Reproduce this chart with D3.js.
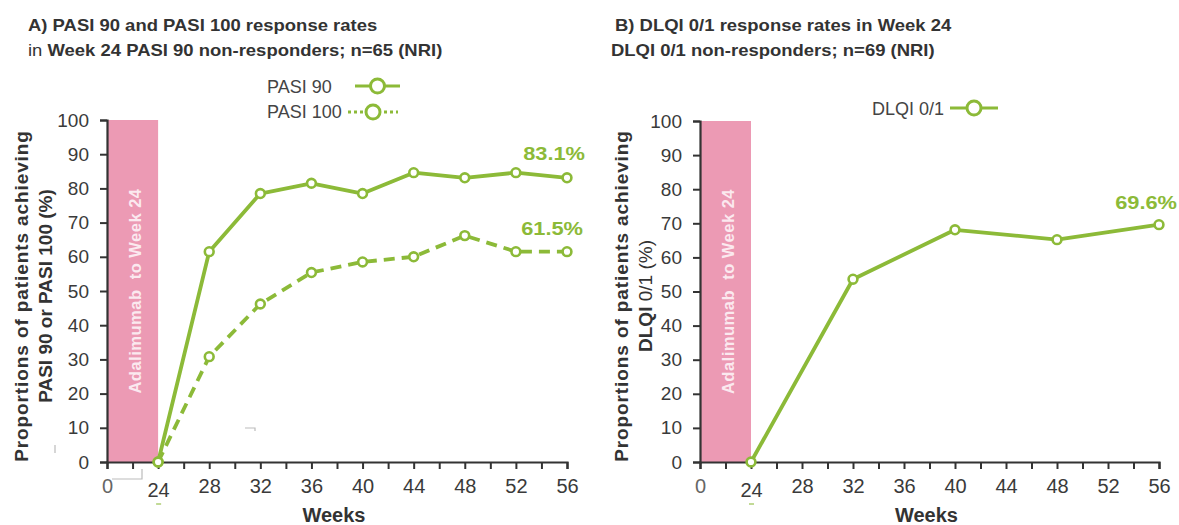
<!DOCTYPE html>
<html>
<head>
<meta charset="utf-8">
<script src="https://cdn.jsdelivr.net/npm/d3@7"></script>
<style>
  html, body { margin: 0; padding: 0; background: #fff; }
  svg { display: block; font-family: "Liberation Sans", Arial, sans-serif; }
</style>
</head>
<body>
<svg id="chart" width="1179" height="525"></svg>
<script>
// Week 24 non-responders followed to week 56
const weeksA = [24, 28, 32, 36, 40, 44, 48, 52, 56];
const pasi90 = [0, 61.5, 78.5, 81.5, 78.5, 84.6, 83.1, 84.6, 83.1];
const pasi100 = [0, 30.8, 46.2, 55.4, 58.5, 60.0, 66.2, 61.5, 61.5];

const weeksB = [24, 32, 40, 48, 56];
const dlqi = [0, 53.6, 68.1, 65.2, 69.6];

const yTicks = [0, 10, 20, 30, 40, 50, 60, 70, 80, 90, 100];
// x axis is broken between 0 and 24; one unlabeled tick sits inside the break
const xTicks = [0, 12, 24, 26, 28, 30, 32, 34, 36, 38, 40, 42, 44, 46, 48, 50, 52, 54, 56];
const xTickLabels = [0, 24, 28, 32, 36, 40, 44, 48, 52, 56];

const GREEN = "#8cba38";
const PINK = "#ec9ab4";
const INK = "#333333";

const svg = d3.select("#chart");

function panel(opts) {
  const { left, right, top, bottom } = opts;
  const g = svg.append("g");
  // piecewise scale: the 0–24 break occupies two tick steps
  const step = (right - left) / 18;
  const x = d3.scaleLinear().domain([0, 24, 56]).range([left, left + 2 * step, right]);
  const y = d3.scaleLinear().domain([0, 100]).range([bottom, top]);

  // treatment period band
  g.append("rect")
    .attr("x", x(0) + 1).attr("y", y(100))
    .attr("width", x(24) - x(0) - 1).attr("height", y(0) - y(100))
    .attr("fill", PINK);
  g.append("text")
    .attr("transform", `translate(${(x(0) + x(24)) / 2 + 8},${(y(0) + y(100)) / 2}) rotate(-90)`)
    .attr("text-anchor", "middle")
    .attr("font-size", 16.5).attr("font-weight", "bold")
    .attr("letter-spacing", 0.5)
    .attr("fill", "#fbe9ef")
    .attr("xml:space", "preserve")
    .text("Adalimumab  to Week 24");

  // y axis
  const yAxis = g.append("g")
    .attr("transform", `translate(${left},0)`)
    .call(d3.axisLeft(y).tickValues(yTicks).tickSize(7).tickPadding(11));
  yAxis.select(".domain").attr("stroke", INK).attr("stroke-width", 2.2);
  yAxis.selectAll(".tick line").attr("stroke", INK).attr("stroke-width", 2);
  yAxis.selectAll(".tick text").attr("font-size", 19).attr("fill", "#3a3a3a")
    .attr("font-family", "Liberation Sans, Arial, sans-serif");

  // x axis
  const xAxis = g.append("g")
    .attr("transform", `translate(0,${bottom})`)
    .call(d3.axisBottom(x).tickValues(xTicks).tickSize(7).tickPadding(10)
      .tickFormat(d => xTickLabels.includes(d) ? d : ""));
  xAxis.select(".domain").attr("stroke", INK).attr("stroke-width", 2.2);
  xAxis.selectAll(".tick line").attr("stroke", INK).attr("stroke-width", 2);
  xAxis.selectAll(".tick text").attr("font-size", 20)
    .attr("font-family", "Liberation Sans, Arial, sans-serif")
    .attr("dy", d => d === 24 ? "0.9em" : "0.71em")
    .attr("fill", d => d === 0 ? "#666" : "#3a3a3a");

  g.append("text")
    .attr("x", (left + right) / 2 - 3).attr("y", 522)
    .attr("text-anchor", "middle")
    .attr("font-size", 20).attr("font-weight", "bold").attr("fill", INK)
    .text("Weeks");

  // small green mark beneath the week 24 label
  g.append("line")
    .attr("x1", x(24) - 2).attr("x2", x(24) + 3)
    .attr("y1", 504).attr("y2", 504)
    .attr("stroke", GREEN).attr("stroke-width", 1.5).attr("opacity", 0.7);

  return { g, x, y };
}

function series(p, weeks, values, dash) {
  const pts = weeks.map((w, i) => [w, values[i]]);
  p.g.append("path")
    .datum(pts)
    .attr("fill", "none")
    .attr("stroke", GREEN)
    .attr("stroke-width", 3.8)
    .attr("stroke-linejoin", "round")
    .attr("stroke-dasharray", dash || null)
    .attr("d", d3.line().x(d => p.x(d[0])).y(d => p.y(d[1])));
  p.g.selectAll(null)
    .data(pts).enter().append("circle")
    .attr("cx", d => p.x(d[0])).attr("cy", d => p.y(d[1]))
    .attr("r", 4.4)
    .attr("fill", "#fff")
    .attr("stroke", GREEN).attr("stroke-width", 2.6);
}

function endLabel(p, weeks, values, dx, dy) {
  const w = weeks[weeks.length - 1], v = values[values.length - 1];
  p.g.append("text")
    .attr("transform", `translate(${p.x(w) + dx},${p.y(v) + dy}) scale(1.18,1)`)
    .attr("text-anchor", "end")
    .attr("font-size", 18.5).attr("font-weight", "bold").attr("fill", GREEN)
    .text(d3.format(".1f")(v) + "%");
}

function legendItem(textX, textY, label, symX, symW, symY, dash) {
  svg.append("text")
    .attr("x", textX).attr("y", textY)
    .attr("font-size", 18).attr("fill", "#444")
    .text(label);
  svg.append("line")
    .attr("x1", symX).attr("x2", symX + symW)
    .attr("y1", symY).attr("y2", symY)
    .attr("stroke", GREEN).attr("stroke-width", 3)
    .attr("stroke-dasharray", dash || null);
  svg.append("circle")
    .attr("cx", symX + symW / 2).attr("cy", symY).attr("r", 7)
    .attr("fill", "#fff").attr("stroke", GREEN).attr("stroke-width", 3);
}

function title(x, y, parts) {
  const t = svg.append("text")
    .attr("transform", `translate(${x},${y}) scale(1.12,1)`)
    .attr("font-size", 16.5).attr("fill", INK).attr("xml:space", "preserve");
  parts.forEach(([s, bold]) => t.append("tspan").attr("font-weight", bold ? "bold" : "normal").text(s));
}

function yTitle(cx, cy, lines) {
  lines.forEach(({ parts, spacing }, i) => {
    const t = svg.append("text")
      .attr("transform", `translate(${cx + i * 24},${cy}) rotate(-90)`)
      .attr("text-anchor", "middle")
      .attr("font-size", 19).attr("fill", INK)
      .attr("letter-spacing", spacing);
    parts.forEach(([s, bold]) => t.append("tspan").attr("font-weight", bold ? "bold" : "normal").text(s));
  });
}

// ---- Panel A: PASI 90 / PASI 100 ----
title(28, 31, [["A) PASI 90 and PASI 100 response rates", true]]);
title(28, 56, [["in ", false], ["Week 24 PASI 90 non-responders; n=65 (NRI)", true]]);

const pA = panel({ left: 107, right: 567, top: 120, bottom: 462 });
series(pA, weeksA, pasi100, "11,7");
series(pA, weeksA, pasi90, null);
endLabel(pA, weeksA, pasi90, 18, -18);
endLabel(pA, weeksA, pasi100, 16, -17);

legendItem(267, 93, "PASI 90", 355, 45, 86, null);
legendItem(267, 118, "PASI 100", 348, 50, 112, "3,3");

yTitle(28, 296, [
  { parts: [["Proportions of patients achieving", true]], spacing: 0.9 },
  { parts: [["PASI 90 or PASI 100 (%)", true]], spacing: 0 }
]);

// faint marks near panel A axes
svg.append("path").attr("d", "M112,479 H142 V469").attr("fill", "none")
  .attr("stroke", "#bbb").attr("stroke-width", 1.2);
svg.append("path").attr("d", "M245,428 H255 V431").attr("fill", "none")
  .attr("stroke", "#bbb").attr("stroke-width", 1.2);
svg.append("line").attr("x1", 55).attr("x2", 55).attr("y1", 445).attr("y2", 453)
  .attr("stroke", "#bbb").attr("stroke-width", 1.2);

// ---- Panel B: DLQI 0/1 ----
title(615, 31, [["B) DLQI 0/1 response rates in Week 24", true]]);
title(611, 56, [["DLQI 0/1 non-responders; n=69 (NRI)", true]]);

const pB = panel({ left: 700, right: 1159, top: 121, bottom: 462 });
series(pB, weeksB, dlqi, null);
endLabel(pB, weeksB, dlqi, 18, -16);

legendItem(872, 115, "DLQI 0/1", 950, 48, 108, null);

yTitle(628, 296, [
  { parts: [["Proportions of patients achieving", true]], spacing: 0.9 },
  { parts: [["DLQI", true], [" 0/1 (%)", false]], spacing: 0 }
]);
</script>
</body>
</html>
